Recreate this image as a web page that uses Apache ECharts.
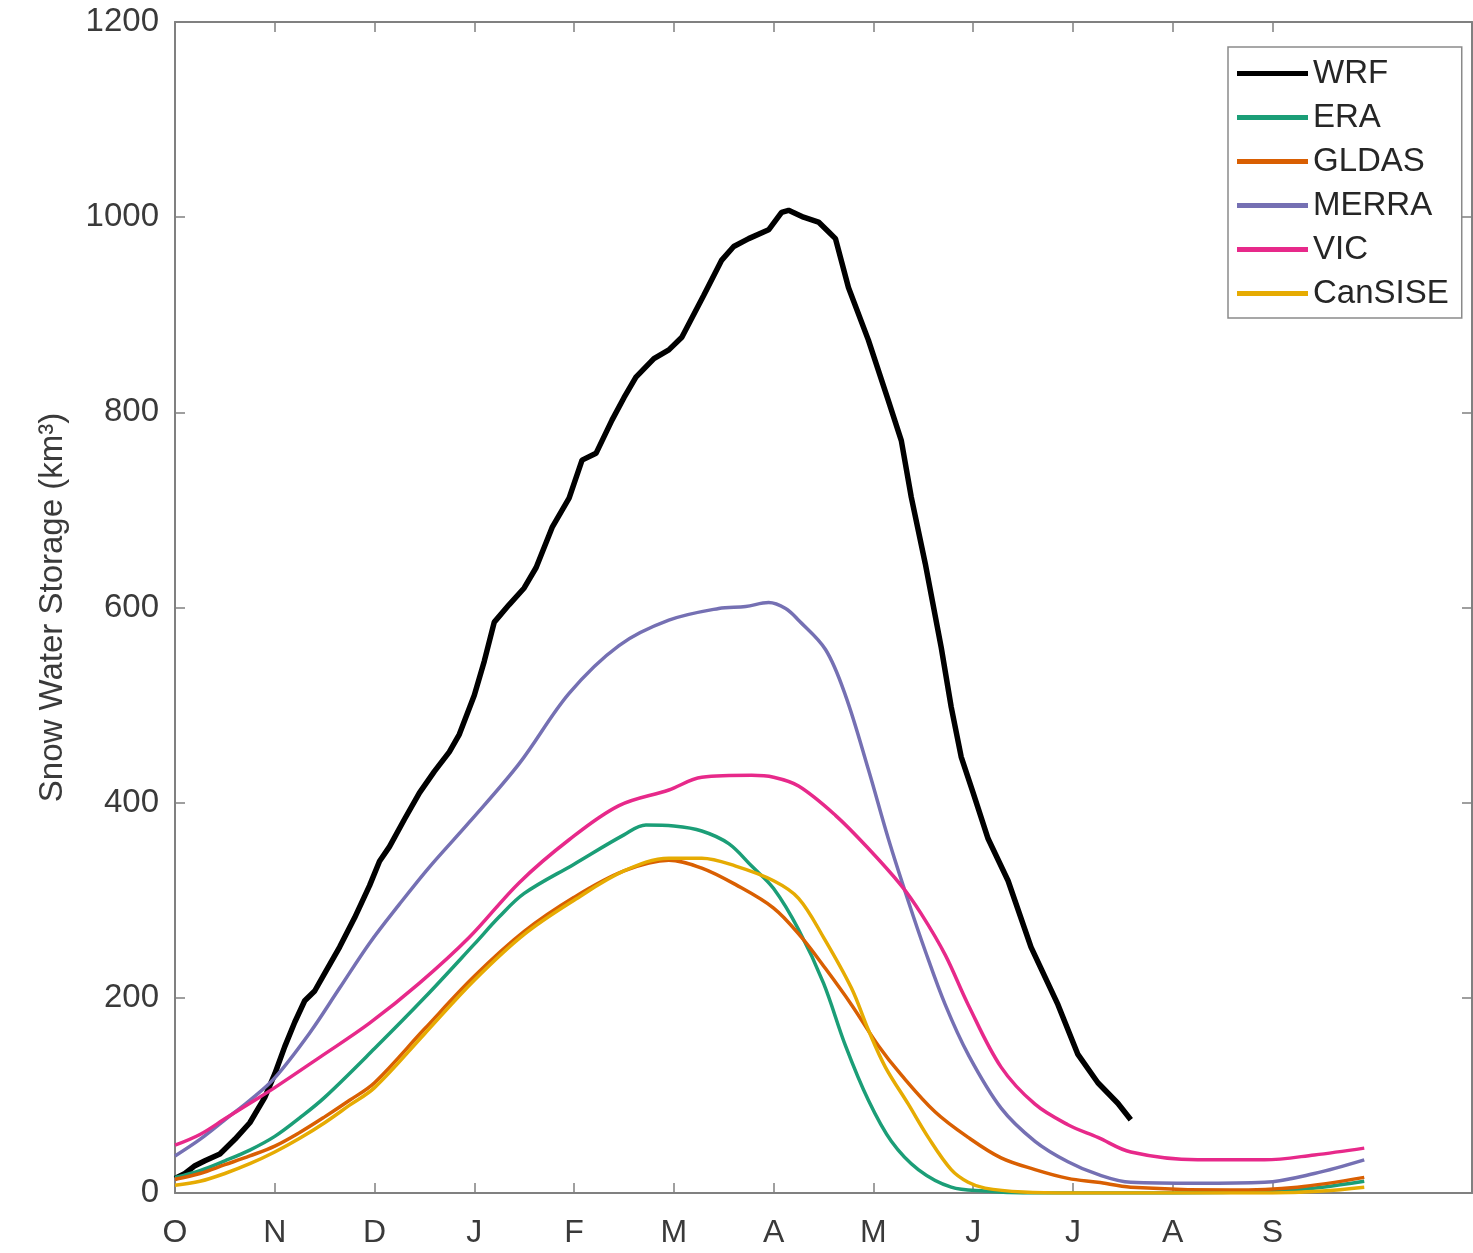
<!DOCTYPE html>
<html>
<head>
<meta charset="utf-8">
<script src="https://cdn.jsdelivr.net/npm/echarts@6/dist/echarts.min.js"></script>
<style>
html,body{margin:0;padding:0;background:#fff;}
#c{width:1473px;height:1253px;}
</style>
</head>
<body>
<div id="c"></div>
<script>
// x = months since 1 October, y = snow water storage (km^3)
const monthLabels = ['O','N','D','J','F','M','A','M','J','J','A','S'];
const yTicks = [0,200,400,600,800,1000,1200];

const WRF = [[0,15],[0.1,20],[0.2,28],[0.3,33],[0.45,40],[0.6,55],[0.75,72],[0.9,98],[1.0,122],[1.1,150],[1.2,175],[1.3,197],[1.4,207],[1.5,225],[1.65,252],[1.8,282],[1.95,315],[2.05,340],[2.15,355],[2.3,383],[2.45,410],[2.6,432],[2.75,452],[2.85,470],[3.0,510],[3.1,545],[3.2,585],[3.35,603],[3.5,620],[3.62,641],[3.78,682],[3.95,712],[4.08,751],[4.22,758],[4.38,792],[4.5,815],[4.62,836],[4.8,855],[4.95,864],[5.08,877],[5.3,920],[5.48,956],[5.6,970],[5.75,978],[5.95,987],[6.08,1005],[6.15,1007],[6.3,1000],[6.45,995],[6.55,985],[6.62,978],[6.75,928],[6.95,874],[7.15,812],[7.28,771],[7.38,713],[7.52,645],[7.68,559],[7.78,498],[7.88,447],[8.0,410],[8.15,363],[8.35,320],[8.58,252],[8.85,193],[9.05,142],[9.25,113],[9.45,92],[9.58,75]];

const ERA = [[0,16],[0.25,23],[0.5,33],[0.75,44],[1.0,58],[1.25,77],[1.5,98],[2.0,148],[2.5,200],[3.0,255],[3.25,283],[3.5,307],[4.0,337],[4.5,367],[4.72,377],[5.0,376],[5.28,371],[5.55,358],[5.78,335],[6.0,312],[6.25,270],[6.5,215],[6.72,151],[6.95,95],[7.18,53],[7.45,24],[7.78,6],[8.12,2],[8.5,0],[9,0],[10,0],[11,2],[11.5,6],[11.92,12]];

const GLDAS = [[0,14],[0.25,20],[0.5,29],[0.75,38],[1.0,48],[1.25,62],[1.5,78],[1.75,95],[2.0,113],[2.5,168],[3.0,222],[3.5,268],[4.0,303],[4.5,330],[4.95,341],[5.28,333],[5.62,316],[6.0,292],[6.28,262],[6.52,230],[6.78,193],[7.05,151],[7.28,121],[7.62,83],[7.95,57],[8.28,36],[8.62,24],[8.95,15],[9.25,11],[9.58,6],[10.58,3],[11.25,6],[11.92,16]];

const MERRA = [[0,38],[0.25,55],[0.5,75],[0.75,95],[1.0,118],[1.35,164],[1.65,210],[1.95,256],[2.25,296],[2.55,334],[2.95,380],[3.45,440],[3.95,512],[4.45,561],[4.95,587],[5.45,599],[5.72,601],[5.95,605],[6.12,599],[6.25,587],[6.52,557],[6.72,510],[6.95,434],[7.15,363],[7.35,299],[7.52,248],[7.72,193],[7.95,142],[8.28,87],[8.62,53],[8.95,32],[9.25,19],[9.58,11],[10.25,10],[10.92,11],[11.42,20],[11.92,34]];

const VIC = [[0,49],[0.25,60],[0.5,76],[0.75,92],[1.0,108],[1.45,139],[1.95,174],[2.45,215],[2.95,262],[3.45,318],[3.95,362],[4.45,397],[4.95,413],[5.28,426],[5.78,428],[6.0,426],[6.25,417],[6.62,387],[6.95,353],[7.28,315],[7.48,286],[7.72,244],[7.95,193],[8.28,129],[8.62,91],[8.95,70],[9.25,57],[9.58,42],[10.25,34],[10.92,34],[11.42,39],[11.92,46]];

const CanSISE = [[0,8],[0.25,12],[0.5,20],[0.75,30],[1.0,42],[1.25,56],[1.5,72],[1.75,90],[2.0,108],[2.5,163],[3.0,218],[3.5,265],[4.0,300],[4.5,330],[4.95,343],[5.28,343],[5.62,335],[6.0,320],[6.25,302],[6.5,262],[6.78,210],[6.95,167],[7.12,129],[7.35,91],[7.55,57],[7.78,24],[7.95,11],[8.12,5],[8.5,1],[9,0],[10,0],[11,0],[11.5,2],[11.92,6]];

const seriesNames = ['WRF','ERA','GLDAS','MERRA','VIC','CanSISE'];
const seriesData = [WRF, ERA, GLDAS, MERRA, VIC, CanSISE];
const seriesColors = ['#000000','#1b9e77','#d95f02','#7570b3','#e7298a','#e6ab02'];

const FONT = '"Liberation Sans", Arial, Helvetica, sans-serif';
const TXT = '#3a3a3a';
const AX = '#808080';
const monthTickVals = monthLabels.map((_, i) => i);

const chart = echarts.init(document.getElementById('c'), null, {renderer: 'canvas'});
chart.setOption({
  animation: false,
  backgroundColor: '#ffffff',
  grid: {left: 175, top: 22, right: 1, bottom: 60, containLabel: false},
  legend: {
    orient: 'vertical',
    left: 1228, top: 47,
    padding: [10, 13, 8, 9],
    itemGap: 11,
    icon: 'rect',
    itemWidth: 71, itemHeight: 5,
    borderColor: '#8a8a8a', borderWidth: 1.5,
    backgroundColor: '#ffffff',
    textStyle: {fontFamily: FONT, fontSize: 33, color: '#262626', lineHeight: 32, padding: [0,0,0,0]},
    data: seriesNames
  },
  xAxis: [{
    type: 'value', min: 0, max: 13, interval: 1,
    position: 'bottom',
    axisLine: {show: true, onZero: false, lineStyle: {color: AX, width: 2}},
    axisTick: {show: true, inside: true, length: 10, lineStyle: {color: AX, width: 1.5}, customValues: monthTickVals},
    axisLabel: {show: true, margin: 24, fontFamily: FONT, fontSize: 32, color: TXT,
      customValues: monthTickVals,
      formatter: v => monthLabels[Math.round(v)] || ''},
    splitLine: {show: false}
  }, {
    type: 'value', min: 0, max: 13, interval: 1,
    position: 'top',
    axisLine: {show: true, onZero: false, lineStyle: {color: AX, width: 2}},
    axisTick: {show: true, inside: true, length: 10, lineStyle: {color: AX, width: 1.5}, customValues: monthTickVals},
    axisLabel: {show: false},
    splitLine: {show: false}
  }],
  yAxis: [{
    type: 'value', min: 0, max: 1200, interval: 200,
    position: 'left',
    name: 'Snow Water Storage (km³)',
    nameLocation: 'middle', nameGap: 106, nameRotate: 90,
    nameTextStyle: {fontFamily: FONT, fontSize: 33, color: TXT},
    axisLine: {show: true, onZero: false, lineStyle: {color: AX, width: 2}},
    axisTick: {show: true, inside: true, length: 10, lineStyle: {color: AX, width: 1.5}},
    axisLabel: {show: true, margin: 16, fontFamily: FONT, fontSize: 33, color: TXT,
      formatter: v => yTicks.indexOf(v) >= 0 ? String(v) : ''},
    splitLine: {show: false}
  }, {
    type: 'value', min: 0, max: 1200, interval: 200,
    position: 'right',
    axisLine: {show: true, onZero: false, lineStyle: {color: AX, width: 2}},
    axisTick: {show: true, inside: true, length: 10, lineStyle: {color: AX, width: 1.5}},
    axisLabel: {show: false},
    splitLine: {show: false}
  }],
  series: seriesNames.map((name, i) => ({
    name: name,
    type: 'line',
    xAxisIndex: 0, yAxisIndex: 0,
    data: seriesData[i],
    showSymbol: false,
    symbol: 'none',
    smooth: i === 0 ? false : 0.35,
    color: seriesColors[i],
    lineStyle: {color: seriesColors[i], width: i === 0 ? 5.5 : 3.5},
    z: 2 + i
  }))
});
</script>
</body>
</html>
